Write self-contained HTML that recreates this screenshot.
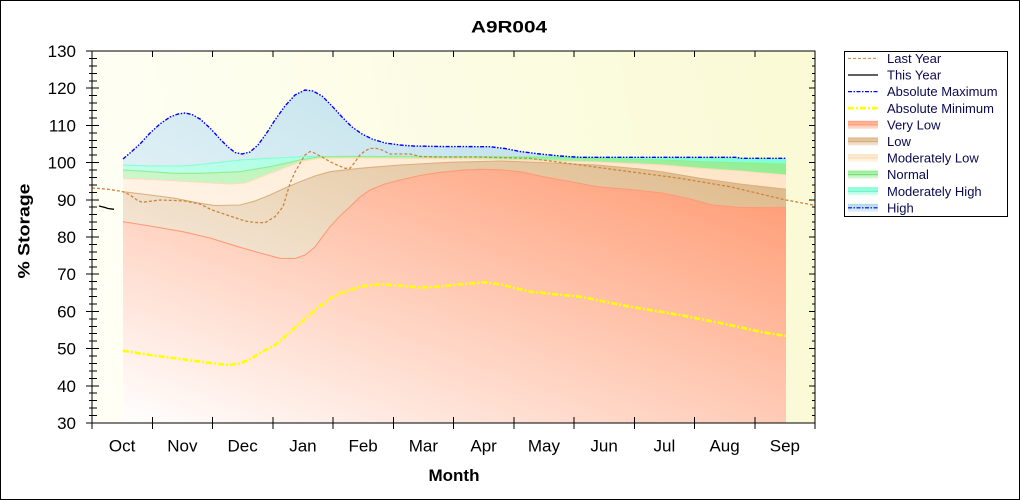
<!DOCTYPE html>
<html><head><meta charset="utf-8">
<style>
html,body{margin:0;padding:0;background:#fff;}
svg{display:block;font-family:"Liberation Sans",Arial,sans-serif;}
</style></head>
<body>
<svg width="1020" height="500" viewBox="0 0 1020 500" xmlns="http://www.w3.org/2000/svg">
<defs>
  <linearGradient id="gbg" gradientUnits="userSpaceOnUse" x1="92" y1="423" x2="815" y2="300">
    <stop offset="0" stop-color="#fffff6"/><stop offset="1" stop-color="#fafad6"/>
  </linearGradient>
  <linearGradient id="gHigh" x1="0" y1="1" x2="1" y2="0"><stop offset="0" stop-color="#ffffff"/><stop offset="1" stop-color="#add8e6"/></linearGradient>
  <linearGradient id="gMH" x1="0" y1="1" x2="1" y2="0"><stop offset="0" stop-color="#ffffff"/><stop offset="1" stop-color="#7fffd4"/></linearGradient>
  <linearGradient id="gN" x1="0" y1="1" x2="1" y2="0"><stop offset="0" stop-color="#ffffff"/><stop offset="1" stop-color="#90ee90"/></linearGradient>
  <linearGradient id="gML" x1="0" y1="1" x2="1" y2="0"><stop offset="0" stop-color="#ffffff"/><stop offset="1" stop-color="#ffe4c4"/></linearGradient>
  <linearGradient id="gL" x1="0" y1="1" x2="1" y2="0"><stop offset="0" stop-color="#ffffff"/><stop offset="1" stop-color="#deb887"/></linearGradient>
  <linearGradient id="gVL" x1="0" y1="1" x2="1" y2="0"><stop offset="0" stop-color="#ffffff"/><stop offset="0.92" stop-color="#ffa07a"/><stop offset="1" stop-color="#ffa07a"/></linearGradient>
  <linearGradient id="sVL" x1="0" y1="0" x2="0" y2="1"><stop offset="0" stop-color="#ffa07a"/><stop offset="1" stop-color="#ffe2d6"/></linearGradient>
  <linearGradient id="sL" x1="0" y1="0" x2="0" y2="1"><stop offset="0" stop-color="#deb887"/><stop offset="1" stop-color="#f4e8d8"/></linearGradient>
  <linearGradient id="sML" x1="0" y1="0" x2="0" y2="1"><stop offset="0" stop-color="#ffe4c4"/><stop offset="1" stop-color="#fff5ea"/></linearGradient>
  <linearGradient id="sN" x1="0" y1="0" x2="0" y2="1"><stop offset="0" stop-color="#90ee90"/><stop offset="1" stop-color="#dcf8dc"/></linearGradient>
  <linearGradient id="sMH" x1="0" y1="0" x2="0" y2="1"><stop offset="0" stop-color="#7fffd4"/><stop offset="1" stop-color="#d6fff0"/></linearGradient>
  <linearGradient id="sH" x1="0" y1="0" x2="0" y2="1"><stop offset="0" stop-color="#add8e6"/><stop offset="1" stop-color="#e4f2f7"/></linearGradient>
</defs>

<rect x="0.5" y="0.5" width="1019" height="499" fill="#fff" stroke="#000" stroke-width="1"/>

<!-- plot background -->
<rect x="92" y="51" width="723" height="372" fill="url(#gbg)"/>

<!-- High band -->
<path fill="url(#gHigh)" d="M123,159 L130,153 L140,144 L150,133 L160,124 L170,117 L178,114 L185,113 L192,114.5 L200,119 L210,128 L220,139 L228,147 L235,152.5 L242,154 L250,152 L258,145 L266,134 L275,120 L285,106 L295,95 L305,90 L313,91 L322,96 L332,106 L342,117 L352,127 L362,134 L372,139 L385,143 L400,145 L413,146 L440,146.5 L490,146.7 L505,148.5 L520,151.5 L540,154 L560,156 L580,157.3 L650,157.3 L737,157.3 L740,158.3 L786,158.3 L786,423 L123,423 Z"/>
<!-- Moderately High -->
<path fill="url(#gMH)" d="M123,165 L150,166 L183,166 L200,164.5 L240,160 L273,158 L305,156.5 L400,156.3 L500,156.5 L560,157 L650,158 L740,158.5 L786,159.5 L786,423 L123,423 Z"/>
<!-- Normal -->
<path fill="url(#gN)" d="M123,170 L150,171.7 L175,173.3 L200,173.3 L240,171.7 L270,166.7 L300,160 L320,156.7 L350,156.6 L400,156.5 L540,157.2 L597,158.5 L663,160 L700,161.7 L740,162.8 L786,164 L786,423 L123,423 Z"/>
<!-- Moderately Low -->
<path fill="url(#gML)" d="M123,178.3 L150,179.3 L175,180.7 L200,182.3 L230,184 L245,183 L270,173.3 L300,161.7 L320,158 L360,158 L400,158.3 L470,158.8 L540,160.7 L597,162 L663,165 L700,168.3 L740,171 L786,175 L786,423 L123,423 Z"/>
<!-- Low -->
<path fill="url(#gL)" d="M123,191.7 L150,195 L175,198.3 L200,203.3 L215,205.5 L240,205 L255,201 L270,195 L285,188 L300,181.7 L315,176 L330,171.7 L360,168.3 L400,165 L450,162.3 L500,161 L540,162.5 L597,165 L640,169 L663,172 L700,178.3 L740,184 L786,189.3 L786,423 L123,423 Z"/>
<!-- Very Low -->
<path fill="url(#gVL)" d="M123,221.7 L150,226 L183,231.7 L210,238 L240,247.3 L260,253 L280,258.3 L295,258.5 L305,255 L315,247 L323,236 L330,226.7 L340,216 L350,206.7 L360,197 L370,190 L385,184 L400,180 L420,175.5 L440,172.3 L460,170.3 L480,169.3 L500,169.8 L520,171.7 L543,176.7 L570,181.5 L597,186.7 L630,189.5 L663,193 L690,199 L713,205 L740,207.5 L786,207.7 L786,423 L123,423 Z"/>

<!-- band edge lines -->
<g fill="none" stroke-width="1.1">
<polyline stroke="#7fffd4" points="123,165 150,166 183,166 200,164.5 240,160 273,158 305,156.5 400,156.3 500,156.5 560,157 650,158 740,158.5 786,159.5"/>
<polyline stroke="#90ee90" points="123,170 150,171.7 175,173.3 200,173.3 240,171.7 270,166.7 300,160 320,156.7 350,156.6 400,156.5 540,157.2 597,158.5 663,160 700,161.7 740,162.8 786,164"/>
<polyline stroke="#ffdcb8" points="123,178.3 150,179.3 175,180.7 200,182.3 230,184 245,183 270,173.3 300,161.7 320,158 360,158 400,158.3 470,158.8 540,160.7 597,162 663,165 700,168.3 740,171 786,175"/>
<polyline stroke="#d9b080" points="123,191.7 150,195 175,198.3 200,203.3 215,205.5 240,205 255,201 270,195 285,188 300,181.7 315,176 330,171.7 360,168.3 400,165 450,162.3 500,161 540,162.5 597,165 640,169 663,172 700,178.3 740,184 786,189.3"/>
<polyline stroke="#ff9a78" points="123,221.7 150,226 183,231.7 210,238 240,247.3 260,253 280,258.3 295,258.5 305,255 315,247 323,236 330,226.7 340,216 350,206.7 360,197 370,190 385,184 400,180 420,175.5 440,172.3 460,170.3 480,169.3 500,169.8 520,171.7 543,176.7 570,181.5 597,186.7 630,189.5 663,193 690,199 713,205 740,207.5 786,207.7"/>
</g>

<!-- absolute minimum -->
<polyline fill="none" stroke="#ffff00" stroke-width="2.6" stroke-dasharray="6,2,2,2" points="123,350.7 150,355 183,359.3 213,363.3 228,365 240,363.5 250,359.3 262,352 275,345 288,334 300,323.3 317,308.3 333,297 340,293.3 360,286.7 380,284.3 400,285.5 420,287.7 440,286.5 460,284.3 485,282.3 500,284.3 530,291.7 580,296.7 630,306.7 680,315 730,325 760,331.7 786,336"/>

<!-- absolute maximum -->
<polyline fill="none" stroke="#0000ff" stroke-width="1.4" stroke-dasharray="4,1.5,1.5,1.5,1.5,1.5" points="123,159 130,153 140,144 150,133 160,124 170,117 178,114 185,113 192,114.5 200,119 210,128 220,139 228,147 235,152.5 242,154 250,152 258,145 266,134 275,120 285,106 295,95 305,90 313,91 322,96 332,106 342,117 352,127 362,134 372,139 385,143 400,145 413,146 440,146.5 490,146.7 505,148.5 520,151.5 540,154 560,156 580,157.3 650,157.3 737,157.3 740,158.3 786,158.3"/>

<!-- last year -->
<polyline fill="none" stroke="#cd853f" stroke-width="1.3" stroke-dasharray="3,2" points="92,188 100,188.5 110,189.5 123,191.7 130,195 137,200 142,202.3 150,201.3 160,200 175,200.5 185,201 200,204 212,210 230,216 245,221 255,222.5 265,222.7 275,216.7 283,206.7 290,183.3 295,172 300,163.3 305,155 310,151.5 315,153.3 322,157 330,161.7 337,165 345,168.3 350,168.3 355,162 360,155 365,151 370,148.5 376,148.3 382,150 390,154 400,154 410,154 420,156.5 440,157 480,157 530,158.3 580,165 630,171.7 680,178.3 730,186.7 786,200 808,204 815,205.5"/>

<!-- this year -->
<polyline fill="none" stroke="#000" stroke-width="1.3" points="99,206 105,207.5 108,208.5 114,209.3"/>

<!-- axes -->
<g stroke="#000" stroke-width="1" fill="none" shape-rendering="crispEdges">
<rect x="92" y="51" width="723" height="372"/>
<path d="M92,51V57 M152.25,51V57 M212.5,51V57 M272.75,51V57 M333,51V57 M393.25,51V57 M453.5,51V57 M513.75,51V57 M574,51V57 M634.25,51V57 M694.5,51V57 M754.75,51V57"/>
<path d="M92,417V429 M152.25,417V429 M212.5,417V429 M272.75,417V429 M333,417V429 M393.25,417V429 M453.5,417V429 M513.75,417V429 M574,417V429 M634.25,417V429 M694.5,417V429 M754.75,417V429 M815,417V429"/>
<path d="M86,51H99 M86,88.2H99 M86,125.4H99 M86,162.6H99 M86,199.8H99 M86,237H99 M86,274.2H99 M86,311.4H99 M86,348.6H99 M86,385.8H99 M86,423H99"/>
<path d="M809,51H815 M809,88.2H815 M809,125.4H815 M809,162.6H815 M809,199.8H815 M809,237H815 M809,274.2H815 M809,311.4H815 M809,348.6H815 M809,385.8H815"/>
<path d="M89,58.4H97 M89,65.9H97 M89,73.3H97 M89,80.8H97 M89,95.6H97 M89,103.1H97 M89,110.5H97 M89,118H97 M89,132.8H97 M89,140.3H97 M89,147.7H97 M89,155.2H97 M89,170H97 M89,177.5H97 M89,184.9H97 M89,192.4H97 M89,207.2H97 M89,214.7H97 M89,222.1H97 M89,229.6H97 M89,244.4H97 M89,251.9H97 M89,259.3H97 M89,266.8H97 M89,281.6H97 M89,289.1H97 M89,296.5H97 M89,304H97 M89,318.8H97 M89,326.3H97 M89,333.7H97 M89,341.2H97 M89,356H97 M89,363.5H97 M89,370.9H97 M89,378.4H97 M89,393.2H97 M89,400.7H97 M89,408.1H97 M89,415.6H97"/>
<path d="M812,58.4H815 M812,65.9H815 M812,73.3H815 M812,80.8H815 M812,95.6H815 M812,103.1H815 M812,110.5H815 M812,118H815 M812,132.8H815 M812,140.3H815 M812,147.7H815 M812,155.2H815 M812,170H815 M812,177.5H815 M812,184.9H815 M812,192.4H815 M812,207.2H815 M812,214.7H815 M812,222.1H815 M812,229.6H815 M812,244.4H815 M812,251.9H815 M812,259.3H815 M812,266.8H815 M812,281.6H815 M812,289.1H815 M812,296.5H815 M812,304H815 M812,318.8H815 M812,326.3H815 M812,333.7H815 M812,341.2H815 M812,356H815 M812,363.5H815 M812,370.9H815 M812,378.4H815 M812,393.2H815 M812,400.7H815 M812,408.1H815 M812,415.6H815"/>
</g>

<!-- y tick labels -->
<g font-size="17" fill="#000" text-anchor="end">
<text x="76" y="57">130</text>
<text x="76" y="94.2">120</text>
<text x="76" y="131.4">110</text>
<text x="76" y="168.6">100</text>
<text x="76" y="205.8">90</text>
<text x="76" y="243">80</text>
<text x="76" y="280.2">70</text>
<text x="76" y="317.4">60</text>
<text x="76" y="354.6">50</text>
<text x="76" y="391.8">40</text>
<text x="76" y="429">30</text>
</g>

<!-- x labels -->
<g font-size="17" fill="#000" text-anchor="middle">
<text x="122.1" y="451.5">Oct</text>
<text x="182.4" y="451.5">Nov</text>
<text x="242.6" y="451.5">Dec</text>
<text x="302.9" y="451.5">Jan</text>
<text x="363.1" y="451.5">Feb</text>
<text x="423.4" y="451.5">Mar</text>
<text x="483.6" y="451.5">Apr</text>
<text x="543.9" y="451.5">May</text>
<text x="604.1" y="451.5">Jun</text>
<text x="664.4" y="451.5">Jul</text>
<text x="724.6" y="451.5">Aug</text>
<text x="784.9" y="451.5">Sep</text>
</g>

<text x="509" y="32.5" font-size="17" font-weight="bold" text-anchor="middle" textLength="76" lengthAdjust="spacingAndGlyphs">A9R004</text>
<text x="454" y="481" font-size="17" font-weight="bold" text-anchor="middle">Month</text>
<text transform="translate(29.5,231) rotate(-90)" font-size="17" font-weight="bold" text-anchor="middle" textLength="95" lengthAdjust="spacingAndGlyphs">% Storage</text>

<!-- legend -->
<rect x="844.5" y="51.5" width="163" height="165" fill="#fff" stroke="#000" stroke-width="1"/>
<g fill="none">
<line x1="848" y1="58.4" x2="878" y2="58.4" stroke="#cd853f" stroke-width="1" stroke-dasharray="3,2"/>
<line x1="848" y1="75" x2="878" y2="75" stroke="#000" stroke-width="1.2"/>
<line x1="848" y1="91.6" x2="878" y2="91.6" stroke="#0000ff" stroke-width="1.2" stroke-dasharray="4,1.5,1.5,1.5"/>
<line x1="848" y1="108.2" x2="878" y2="108.2" stroke="#ffff00" stroke-width="2.6" stroke-dasharray="6,2,2,2"/>
</g>
<rect x="848" y="120.8" width="30" height="8" fill="url(#sVL)"/>
<line x1="848" y1="124.8" x2="878" y2="124.8" stroke="#ff9a78" stroke-width="1"/>
<rect x="848" y="137.4" width="30" height="8" fill="url(#sL)"/>
<line x1="848" y1="141.4" x2="878" y2="141.4" stroke="#d2a878" stroke-width="1"/>
<rect x="848" y="154" width="30" height="8" fill="url(#sML)"/>
<line x1="848" y1="158" x2="878" y2="158" stroke="#ffd8b0" stroke-width="1"/>
<rect x="848" y="170.6" width="30" height="8" fill="url(#sN)"/>
<line x1="848" y1="174.6" x2="878" y2="174.6" stroke="#70dd70" stroke-width="1"/>
<rect x="848" y="187.2" width="30" height="8" fill="url(#sMH)"/>
<line x1="848" y1="191.2" x2="878" y2="191.2" stroke="#5fefc0" stroke-width="1"/>
<rect x="848" y="203.8" width="30" height="8" fill="url(#sH)"/>
<line x1="848" y1="207.8" x2="878" y2="207.8" stroke="#0000ff" stroke-width="1.2" stroke-dasharray="4,1.5,1.5,1.5"/>

<g font-size="13" fill="#0a0a50">
<text x="887" y="63">Last Year</text>
<text x="887" y="79.6">This Year</text>
<text x="887" y="96.2">Absolute Maximum</text>
<text x="887" y="112.8">Absolute Minimum</text>
<text x="887" y="129.4">Very Low</text>
<text x="887" y="146">Low</text>
<text x="887" y="162.6">Moderately Low</text>
<text x="887" y="179.2">Normal</text>
<text x="887" y="195.8">Moderately High</text>
<text x="887" y="212.4">High</text>
</g>
</svg>
</body></html>
